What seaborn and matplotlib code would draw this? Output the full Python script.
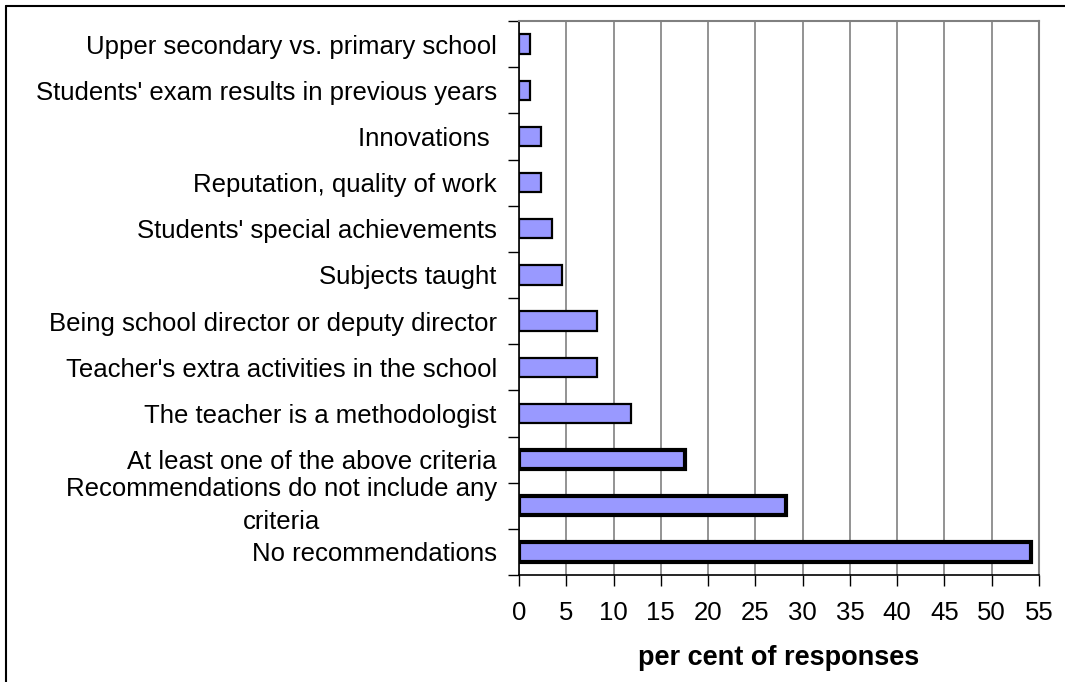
import matplotlib
matplotlib.use("Agg")
import matplotlib.pyplot as plt
import seaborn as sns
import pandas as pd
from matplotlib.lines import Line2D

# data (top to bottom)
categories = [
    "Upper secondary vs. primary school",
    "Students' exam results in previous years",
    "Innovations ",
    "Reputation, quality of work",
    "Students' special achievements",
    "Subjects taught",
    "Being school director or deputy director",
    "Teacher's extra activities in the school",
    "The teacher is a methodologist",
    "At least one of the above criteria",
    "Recommendations do not include any\ncriteria",
    "No recommendations",
]
values = [1.2, 1.2, 2.3, 2.3, 3.5, 4.6, 8.2, 8.2, 11.8, 17.6, 28.2, 54.2]
thick_border = [False] * 9 + [True] * 3
x_ticks = list(range(0, 60, 5))

df = pd.DataFrame({"category": categories, "value": values})

sns.set_style("white")
plt.rcParams["font.family"] = ["Liberation Sans", "DejaVu Sans"]
plt.rcParams["text.color"] = "black"
plt.rcParams["xtick.color"] = "black"
plt.rcParams["ytick.color"] = "black"
plt.rcParams["axes.labelcolor"] = "black"

fig = plt.figure(figsize=(10.65, 6.82), dpi=100)
ax = fig.add_axes([519 / 1065, 1 - 575 / 682, 520 / 1065, 554 / 682])

sns.barplot(data=df, x="value", y="category", orient="h", color="#9999FF",
            saturation=1, width=0.42, ax=ax, zorder=3)
for bar, thick in zip(ax.patches, thick_border):
    bar.set_edgecolor("black")
    bar.set_linewidth(3.0 if thick else 1.6)

ax.set_xlim(0, 55)
ax.set_ylim(len(categories) - 0.5, -0.5)
ax.set_xticks(x_ticks)
ax.xaxis.grid(True, color="#808080", linewidth=1.2, zorder=0)
ax.yaxis.grid(False)

ax.set_yticks(range(len(categories)))
ax.set_yticklabels(categories, fontsize=18.5, ha="right", multialignment="center", linespacing=1.45)
# the wrapped label sits centred on its bar
for lbl in ax.get_yticklabels():
    if "\n" in lbl.get_text():
        lbl.set_va("center")
ax.set_yticks([i - 0.5 for i in range(len(categories) + 1)], minor=True)
ax.tick_params(axis="y", which="major", length=0, pad=16)
ax.tick_params(axis="y", which="minor", length=8, width=1, color="black", direction="out", left=True)
ax.tick_params(axis="x", length=8, width=1, color="black", direction="out", labelsize=18.5, pad=11, bottom=True)

ax.set_xlabel("per cent of responses", fontsize=19.5, fontweight="bold", labelpad=14)
ax.set_ylabel("")

for side in ["left", "bottom"]:
    ax.spines[side].set_color("black")
    ax.spines[side].set_linewidth(1.2)
for side in ["top", "right"]:
    ax.spines[side].set_visible(True)
    ax.spines[side].set_color("#808080")
    ax.spines[side].set_linewidth(1.5)

# outer frame (top and left edges visible in the reference)
fig.add_artist(Line2D([6 / 1065, 1], [1 - 6 / 682, 1 - 6 / 682], color="black", linewidth=1.5))
fig.add_artist(Line2D([6 / 1065, 6 / 1065], [0, 1 - 6 / 682], color="black", linewidth=1.5))

fig.savefig("out.png", dpi=100)
